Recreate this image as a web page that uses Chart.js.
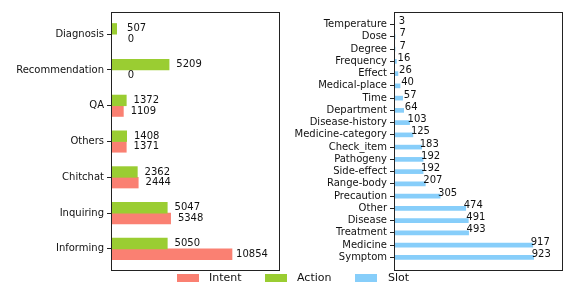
<!DOCTYPE html>
<html>
<head>
<meta charset="utf-8">
<script src="https://cdn.jsdelivr.net/npm/chart.js@4"></script>
<style>
  body { margin: 0; background: #fff; }
  #wrap { position: relative; width: 574px; height: 287px; font-family: "DejaVu Sans", sans-serif; }
  canvas { position: absolute; top: 0; }
  .lg { position: absolute; top: 270px; font-size: 11px; line-height: 16px; color: #111; }
  .lg span { position: absolute; top: 4px; width: 22px; height: 8px; }
</style>
</head>
<body>
<div id="wrap">
  <canvas id="leftChart" width="290" height="287" style="left:0"></canvas>
  <canvas id="rightChart" width="284" height="287" style="left:290px"></canvas>
  <div class="lg" style="left:177px"><span style="background:#fa8072"></span><b style="font-weight:normal;position:absolute;left:32px">Intent</b></div>
  <div class="lg" style="left:265px"><span style="background:#9acd32"></span><b style="font-weight:normal;position:absolute;left:32px">Action</b></div>
  <div class="lg" style="left:355px"><span style="background:#87cefa"></span><b style="font-weight:normal;position:absolute;left:33px">Slot</b></div>
</div>
<script>
// left panel (top to bottom)
const actTypes = ['Diagnosis', 'Recommendation', 'QA', 'Others', 'Chitchat', 'Inquiring', 'Informing'];
const actionCounts = [507, 5209, 1372, 1408, 2362, 5047, 5050];
const intentCounts = [0, 0, 1109, 1371, 2444, 5348, 10854];

// right panel (top to bottom)
const slotTypes = ['Temperature', 'Dose', 'Degree', 'Frequency', 'Effect', 'Medical-place', 'Time',
  'Department', 'Disease-history', 'Medicine-category', 'Check_item', 'Pathogeny', 'Side-effect',
  'Range-body', 'Precaution', 'Other', 'Disease', 'Treatment', 'Medicine', 'Symptom'];
const slotCounts = [3, 7, 7, 16, 26, 40, 57, 64, 103, 125, 183, 192, 192, 207, 305, 474, 491, 493, 917, 923];

Chart.defaults.font.family = '"DejaVu Sans", sans-serif';
Chart.defaults.font.size = 10;
Chart.defaults.color = '#111';

const frame = {
  id: 'frame',
  afterDraw(chart) {
    const a = chart.chartArea, c = chart.ctx;
    c.save();
    c.strokeStyle = '#222';
    c.lineWidth = 1;
    c.strokeRect(Math.round(a.left) + 0.5, Math.round(a.top) + 0.5,
      Math.round(a.right - a.left), Math.round(a.bottom - a.top));
    c.restore();
  }
};

const valueLabels = {
  id: 'valueLabels',
  afterDatasetsDraw(chart, args, opts) {
    const c = chart.ctx, xs = chart.scales.x;
    c.save();
    c.font = '10px "DejaVu Sans"';
    c.fillStyle = '#111';
    c.textAlign = 'center';
    c.textBaseline = 'middle';
    chart.data.datasets.forEach((ds, i) => {
      chart.getDatasetMeta(i).data.forEach((bar, j) => {
        const v = ds.data[j].x;
        c.fillText(String(v), xs.getPixelForValue(v) + opts.dx, bar.y + opts.dy);
      });
    });
    c.restore();
  }
};

function pts(vals) { return vals.map((v, i) => ({ x: v, y: i })); }

function makeOptions(names, axisWidth, yMin, yMax, xMax, pad, dx, dy) {
  return {
    indexAxis: 'y',
    animation: false,
    responsive: false,
    layout: { padding: pad },
    plugins: { legend: { display: false }, tooltip: { enabled: false }, valueLabels: { dx: dx, dy: dy } },
    scales: {
      x: { type: 'linear', min: 0, max: xMax, display: false },
      y: {
        type: 'linear', reverse: true, min: yMin, max: yMax, offset: false,
        border: { display: false },
        grid: { offset: false, drawOnChartArea: false, drawTicks: true, tickLength: 4, color: '#222' },
        ticks: { padding: 3, autoSkip: false, callback: v => names[v] },
        afterBuildTicks: s => { s.ticks = names.map((_, i) => ({ value: i })); },
        afterFit: s => { s.width = axisWidth; }
      }
    }
  };
}

new Chart(document.getElementById('leftChart'), {
  type: 'bar',
  data: {
    datasets: [
      { label: 'Action', data: pts(actionCounts), backgroundColor: '#9acd32', barThickness: 10.7 },
      { label: 'Intent', data: pts(intentCounts), backgroundColor: '#fa8072', barThickness: 10.7 }
    ]
  },
  options: makeOptions(actTypes, 111, -0.62, 6.59, 15070, { top: 12, right: 11, bottom: 17, left: 0 }, 20, 0),
  plugins: [frame, valueLabels]
});

new Chart(document.getElementById('rightChart'), {
  type: 'bar',
  data: {
    datasets: [
      { label: 'Slot', data: pts(slotCounts), backgroundColor: '#87cefa', barThickness: 4 }
    ]
  },
  options: makeOptions(slotTypes, 104, -1.03, 20.03, 1110, { top: 12, right: 12, bottom: 17, left: 0 }, 7.5, -3),
  plugins: [frame, valueLabels]
});
</script>
</body>
</html>
